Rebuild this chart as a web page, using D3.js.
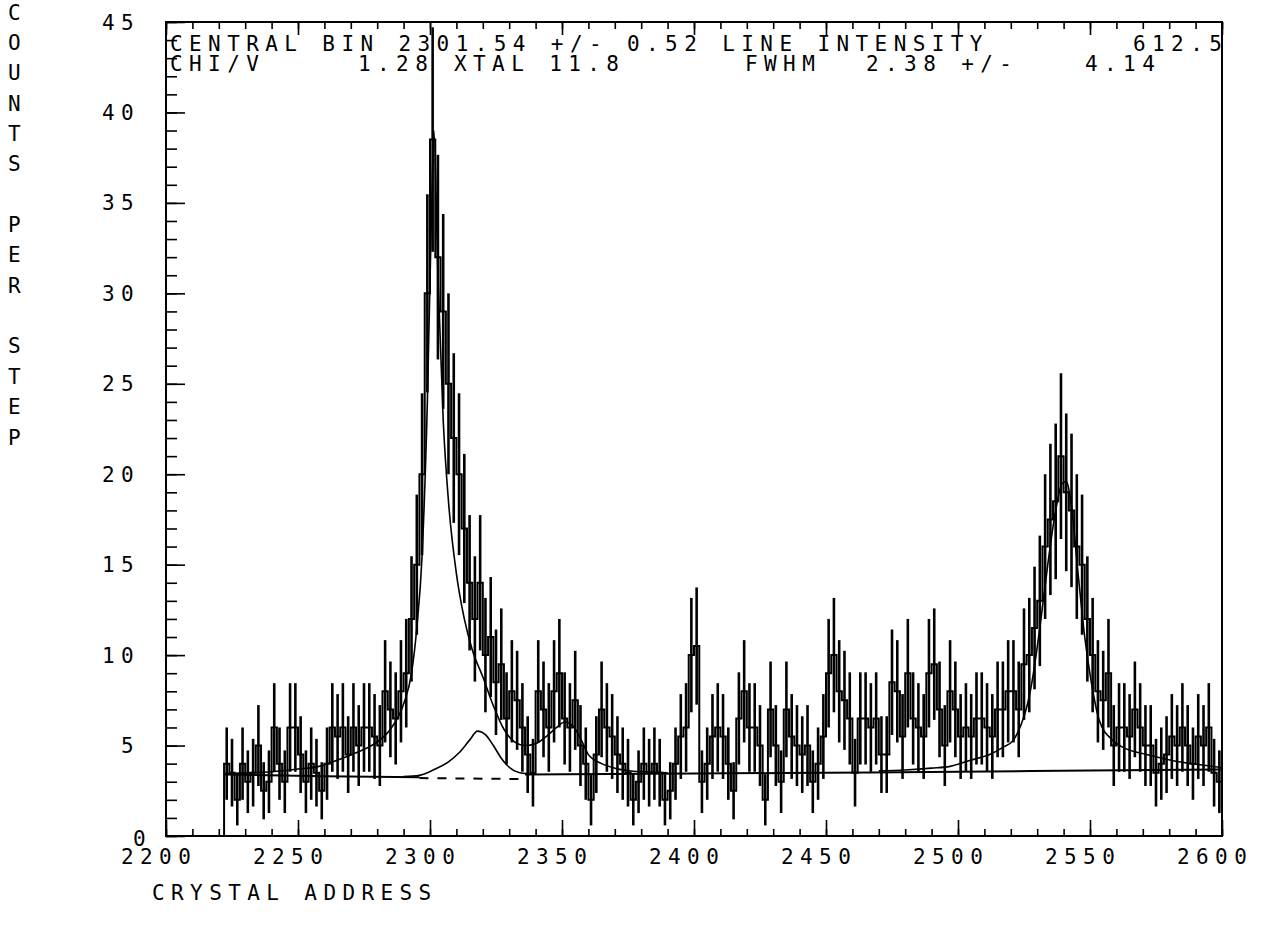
<!DOCTYPE html>
<html><head><meta charset="utf-8">
<script src="https://cdn.jsdelivr.net/npm/d3@7"></script>
<style>
body{margin:0;background:#fff;}
svg text{font-family:"DejaVu Sans Mono",monospace;font-size:21px;letter-spacing:6.4px;fill:#000;}
</style></head><body>
<svg id="chart" width="1263" height="925"></svg>
<script>
// ---------------- DATA ----------------
const xDomain = [2200, 2600];
const yDomain = [0, 45];
const xTickLabels = ["2200","2250","2300","2350","2400","2450","2500","2550","2600"];
const yTickLabels = ["0","5","10","15","20","25","30","35","40","45"];
const binFirst = 2222, binStep = 2;
// counts per step, bins of 2 crystal addresses starting at 2222
const counts = [
  4,3.5,2,4,3,3.5,5,2.5,3,6,
  4,3,6,6,4.5,3,4,3.5,2.5,4,
  6,5.5,6,4.5,6,5,6,6,5.5,5,
  8,7,6.5,8,9,12,15,20,30,38.5,
  32,29,25,22,20,17,14,12,14,10,
  11,8.5,9.5,6.5,8,7.5,6,4.5,3.5,8,
  7,6,8,9,6.5,6,7.5,5,4,2,
  4.5,7,6,5.5,4.5,4,3.5,2,3,4,
  3.5,4,3.5,2,2.5,4,5.5,6,10,10.5,
  3,4,5.5,6,5.5,4,2.5,6.5,8,6,
  6,5,2,7,5,3,7,5.5,5,4.5,
  5,3,4,5.5,9,10,8,7.5,6.5,3.5,
  6.5,6.5,6,6.5,4.5,4.5,8.5,8,5.5,9,
  6.5,6,5.5,9,9.5,7,5,8,7,5.5,
  6,5.5,6.5,6.5,6,5.5,7,7,8,8,
  7,9.5,10,11.5,13,16,17.5,18.5,21,19,
  18,16,15,12,10,8,7.5,9,5,6,
  6,5.5,7,6,5,5,3.5,4,4.5,5.5,
  5,6,5,4,5.5,5,6,3.5,3
];
// fitted curves: [address, counts]
const fitMain = [
  [2222,3.45],[2240,3.55],[2250,3.7],[2258,3.85],[2265,4.2],[2272,4.6],[2280,5.2],[2285,5.9],
  [2290,7.3],[2293,9],[2295,11.5],[2297,15.5],[2299,24],[2300.5,34],[2301.5,39],[2303,31],
  [2305,23],[2307,18.5],[2310,14.5],[2313,12],[2316,10.3],[2320,8.8],[2324,7.2],[2328,5.9],
  [2332,5.2],[2336,5.0],[2340,5.1],[2344,5.5],[2348,6.0],[2351,6.3],[2354,6.1],[2357,5.4],
  [2360,4.5],[2365,4.0],[2370,3.75],[2380,3.55],[2390,3.5]
];
const fitSmall = [
  [2290,3.28],[2296,3.35],[2302,3.7],[2307,4.1],[2311,4.6],[2315,5.3],[2318,5.8],[2321,5.6],
  [2324,5.0],[2327,4.3],[2330,3.8],[2334,3.5],[2340,3.42]
];
const fitSecond = [
  [2470,3.6],[2480,3.65],[2490,3.75],[2497,3.85],[2505,4.2],[2512,4.5],[2517,4.9],[2521,5.3],
  [2524,6.2],[2526,7.1],[2528,8.5],[2531,11.5],[2534,15],[2537,18],[2539.5,19.5],[2541,19.6],
  [2543,18.2],[2545.5,14.5],[2548,11],[2550.5,8.5],[2553.5,6.4],[2558.5,5.3],[2562.5,4.9],
  [2571.5,4.5],[2582,4.15],[2594,3.9],[2600,3.78]
];
const baseLeft = [[2222,3.4],[2260,3.3],[2296,3.25]];
const baseDashed = [[2296,3.2],[2336,3.15]];
const baseRight = [[2336,3.4],[2400,3.45],[2450,3.5],[2500,3.55],[2550,3.62],[2600,3.68]];
const header1 = [["CENTRAL BIN 2301.54 +/- 0.52 LINE INTENSITY",170],["612.5",1133]];
const header2 = [["CHI/V",170],["1.28",358],["XTAL 11.8",454],["FWHM",745],["2.38 +/-",866],["4.14",1085]];
const yTitle = ["C","O","U","N","T","S","","P","E","R","","S","T","E","P"];
const xTitle = "CRYSTAL ADDRESS";

// ---------------- DRAW ----------------
const svg = d3.select("#chart");
const L=166, R=1222, T=22, B=836;
const x = d3.scaleLinear(xDomain,[L,R]);
const y = d3.scaleLinear(yDomain,[B,T]);

svg.append("defs").append("clipPath").attr("id","clip")
  .append("rect").attr("x",L).attr("y",T).attr("width",R-L).attr("height",B-T);

const addresses = d3.range(counts.length).map(i=>binFirst+i*binStep);
const g = svg.append("g").attr("clip-path","url(#clip)");

// histogram steps
const stepPts = [[binFirst,0]].concat(addresses.map((a,i)=>[a,counts[i]]), [[xDomain[1],counts[counts.length-1]]]);
g.append("path").datum(stepPts)
  .attr("d", d3.line().x(d=>x(d[0])).y(d=>y(d[1])).curve(d3.curveStepAfter))
  .attr("fill","none").attr("stroke","#000").attr("stroke-width",2);

// error bars
g.selectAll("line.err").data(addresses).enter().append("line")
  .attr("x1",(a)=>x(a+binStep/2)).attr("x2",(a)=>x(a+binStep/2))
  .attr("y1",(a,i)=>y(counts[i]-Math.sqrt(counts[i])))
  .attr("y2",(a,i)=>y(counts[i]+Math.sqrt(counts[i])))
  .attr("stroke","#000").attr("stroke-width",2.6);

const curve = d3.line().x(d=>x(d[0])).y(d=>y(d[1])).curve(d3.curveMonotoneX);
[fitMain, fitSmall, fitSecond].forEach(f=>{
  g.append("path").datum(f).attr("d",curve).attr("fill","none").attr("stroke","#000").attr("stroke-width",1.6);
});
[baseLeft, baseRight].forEach(f=>{
  g.append("path").datum(f).attr("d",curve).attr("fill","none").attr("stroke","#000").attr("stroke-width",2);
});
g.append("path").datum(baseDashed).attr("d",curve).attr("fill","none").attr("stroke","#000")
  .attr("stroke-width",2).attr("stroke-dasharray","9,9");

// axes ticks
function ticks(axis, pos, vals, size){
  svg.append("g").attr("transform",pos)
    .call(axis.tickValues(vals).tickSize(size).tickFormat(""))
    .call(s=>{s.select(".domain").remove(); s.selectAll("line").attr("stroke","#000").attr("stroke-width",1.6);});
}
const yMinor = d3.range(0,46,1), yMajor = d3.range(0,46,5);
const xMinor = d3.range(2200,2601,10), xMajor = d3.range(2200,2601,50);
ticks(d3.axisRight(y), `translate(${L},0)`, yMinor, 11);
ticks(d3.axisRight(y), `translate(${L},0)`, yMajor, 19);
ticks(d3.axisTop(x), `translate(0,${B})`, xMinor, 7);
ticks(d3.axisTop(x), `translate(0,${B})`, xMajor, 16);
ticks(d3.axisBottom(x), `translate(0,${T})`, xMinor, 7);
ticks(d3.axisBottom(x), `translate(0,${T})`, xMajor, 13);

// frame
svg.append("rect").attr("x",L).attr("y",T).attr("width",R-L).attr("height",B-T)
  .attr("fill","none").attr("stroke","#000").attr("stroke-width",2);

// tick labels
svg.selectAll("text.xl").data(xTickLabels).enter().append("text")
  .attr("x",d=>x(+d)-45).attr("y",864).text(d=>d);
svg.selectAll("text.yl").data(yTickLabels).enter().append("text")
  .attr("text-anchor","end").attr("x",d=> +d===0 ? 152 : 140)
  .attr("y",d=> +d===0 ? 846 : y(+d)+7.5).text(d=>d);

// header text
header1.forEach(([t,px])=>svg.append("text").attr("x",px).attr("y",51).text(t));
header2.forEach(([t,px])=>svg.append("text").attr("x",px).attr("y",71).text(t));

// axis titles
svg.append("text").attr("x",152).attr("y",900).text(xTitle);
yTitle.forEach((c,i)=>{ if(c) svg.append("text").attr("x",8).attr("y",19.5+i*30.36).style("letter-spacing","0px").text(c); });
</script>
</body></html>
